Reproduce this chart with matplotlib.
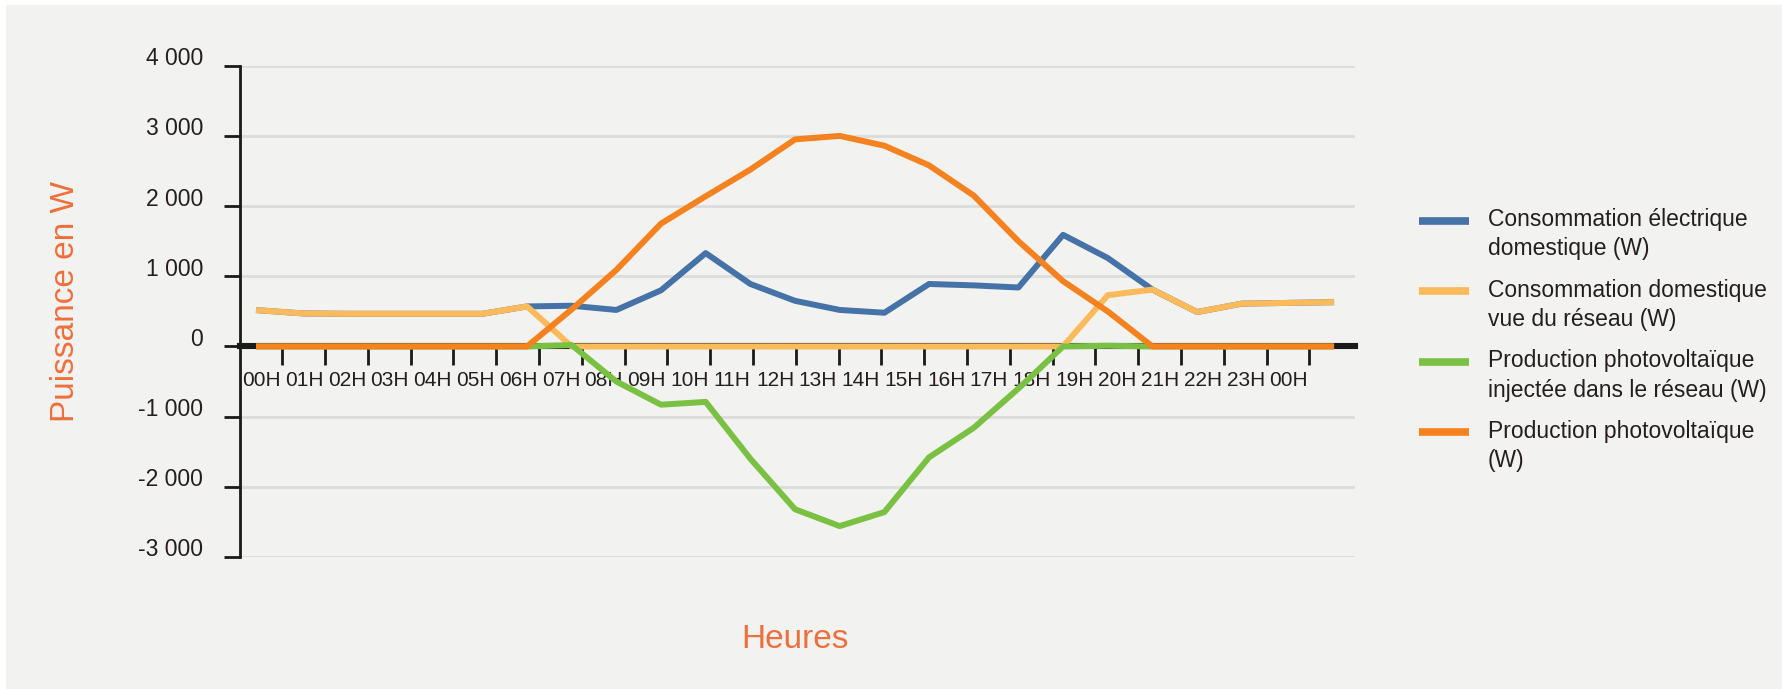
import matplotlib
matplotlib.use("Agg")
import matplotlib.pyplot as plt
import matplotlib.transforms as mtransforms
from matplotlib.patches import Rectangle
import numpy as np

plt.rcParams['font.family'] = ['Liberation Sans', 'DejaVu Sans']

# data (W), one point per hour, 00H -> 00H
hours = np.arange(25)
hour_labels = ["00H", "01H", "02H", "03H", "04H", "05H", "06H", "07H", "08H", "09H", "10H", "11H",
               "12H", "13H", "14H", "15H", "16H", "17H", "18H", "19H", "20H", "21H", "22H", "23H", "00H"]
conso = [515, 470, 465, 465, 465, 465, 570, 580, 520, 800, 1330, 890, 650,
         520, 480, 890, 870, 840, 1590, 1260, 810, 490, 610, 620, 630]
reseau = [515, 470, 465, 465, 465, 465, 570, 0, 0, 0, 0, 0, 0,
          0, 0, 0, 0, 0, 0, 730, 810, 490, 610, 620, 630]
injection = [0, 0, 0, 0, 0, 0, 0, 20, -500, -830, -790, -1600, -2320,
             -2560, -2360, -1580, -1160, -600, 0, 10, 0, 0, 0, 0, 0]
production = [0, 0, 0, 0, 0, 0, 0, 528, 1090, 1750, 2140, 2520, 2950,
              3000, 2860, 2580, 2150, 1500, 930, 500, 0, 0, 0, 0, 0]
y_ticks = [-3000, -2000, -1000, 0, 1000, 2000, 3000, 4000]
y_labels = ["-3 000", "-2 000", "-1 000", "0", "1 000", "2 000", "3 000", "4 000"]

c_blue = '#4572A7'
c_yellow = '#FDBA5A'
c_green = '#7AC143'
c_orange = '#F5821F'
c_title = '#EF6F3C'
c_text = '#231F20'

W, H = 1783, 689
fig = plt.figure(figsize=(W / 100, H / 100), dpi=100)
fig.patch.set_facecolor('white')
fig.add_artist(Rectangle((6 / W, 0), 1, 1 - 5 / H, transform=fig.transFigure,
                         facecolor='#F2F2F0', edgecolor='none', zorder=0))

ax = fig.add_axes([240 / W, 1 - 557 / H, (1355 - 240) / W, (557 - 65.7) / H])
ax.set_facecolor('none')

lw = 4.3
ax.plot(hours, conso, color=c_blue, lw=lw, zorder=3, label="Consommation électrique\ndomestique (W)")
ax.plot(hours, reseau, color=c_yellow, lw=lw, zorder=4, label="Consommation domestique\nvue du réseau (W)")
ax.plot(hours, injection, color=c_green, lw=lw, zorder=5, label="Production photovoltaïque\ninjectée dans le réseau (W)")
ax.plot(hours, production, color=c_orange, lw=lw, zorder=6, label="Production photovoltaïque\n(W)")

ax.set_xlim(-0.425, 24.535)
ax.set_ylim(-3000, 4000)

# spines: y axis on the left, x axis moved to zero
for s in ['top', 'right']:
    ax.spines[s].set_visible(False)
ax.spines['bottom'].set_position(('data', 0))
ax.spines['bottom'].set_linewidth(4.4)
ax.spines['bottom'].set_color('#1a1a1a')
ax.spines['bottom'].set_zorder(2.2)
ax.spines['left'].set_linewidth(2)
ax.spines['left'].set_color('#1a1a1a')

ax.set_yticks(y_ticks, y_labels)
ax.tick_params(axis='y', direction='out', length=11.5, width=2, color='#1a1a1a',
               pad=15, labelsize=16.5, labelcolor=c_text)
offset = mtransforms.ScaledTranslation(0, 9.5 / 100, fig.dpi_scale_trans)
for lab in ax.get_yticklabels():
    lab.set_transform(lab.get_transform() + offset)
ax.grid(True, axis='y', color='#DCDCDE', lw=2)
ax.set_axisbelow(True)

# hour labels were laid out a bit tighter than the data points
step = 0.958
ax.set_xticks([0.522 + step * k for k in range(25)])
ax.set_xticklabels([])
ax.set_xticks([0.056 + step * k for k in range(25)], minor=True)
ax.set_xticklabels(hour_labels, minor=True)
ax.tick_params(axis='x', which='major', direction='out', length=14, width=2, color='#1a1a1a')
ax.tick_params(axis='x', which='minor', length=0, pad=18, labelsize=15, labelcolor=c_text)

fig.text(66 / W, 1 - 301 / H, "Puissance en W", rotation=90, ha='center', va='center',
         fontsize=24, color=c_title)
fig.text(795 / W, 1 - 640 / H, "Heures", ha='center', va='center', fontsize=24, color=c_title)

leg = fig.legend(loc='upper left', bbox_to_anchor=(1419 / W, 1 - 208 / H), frameon=False,
                 fontsize=16.5, handlelength=2.2, handletextpad=0.8, labelspacing=0.8,
                 borderpad=0, borderaxespad=0)
for t in leg.get_texts():
    t.set_color(c_text)
    t.set_linespacing(1.35)
for h in leg.legend_handles:
    h.set_linewidth(5.5)
    h.set_solid_capstyle('butt')
    y = h.get_ydata()
    h.set_ydata([v + 10.5 for v in y])

fig.savefig("out.png", dpi=100, facecolor=fig.get_facecolor())
